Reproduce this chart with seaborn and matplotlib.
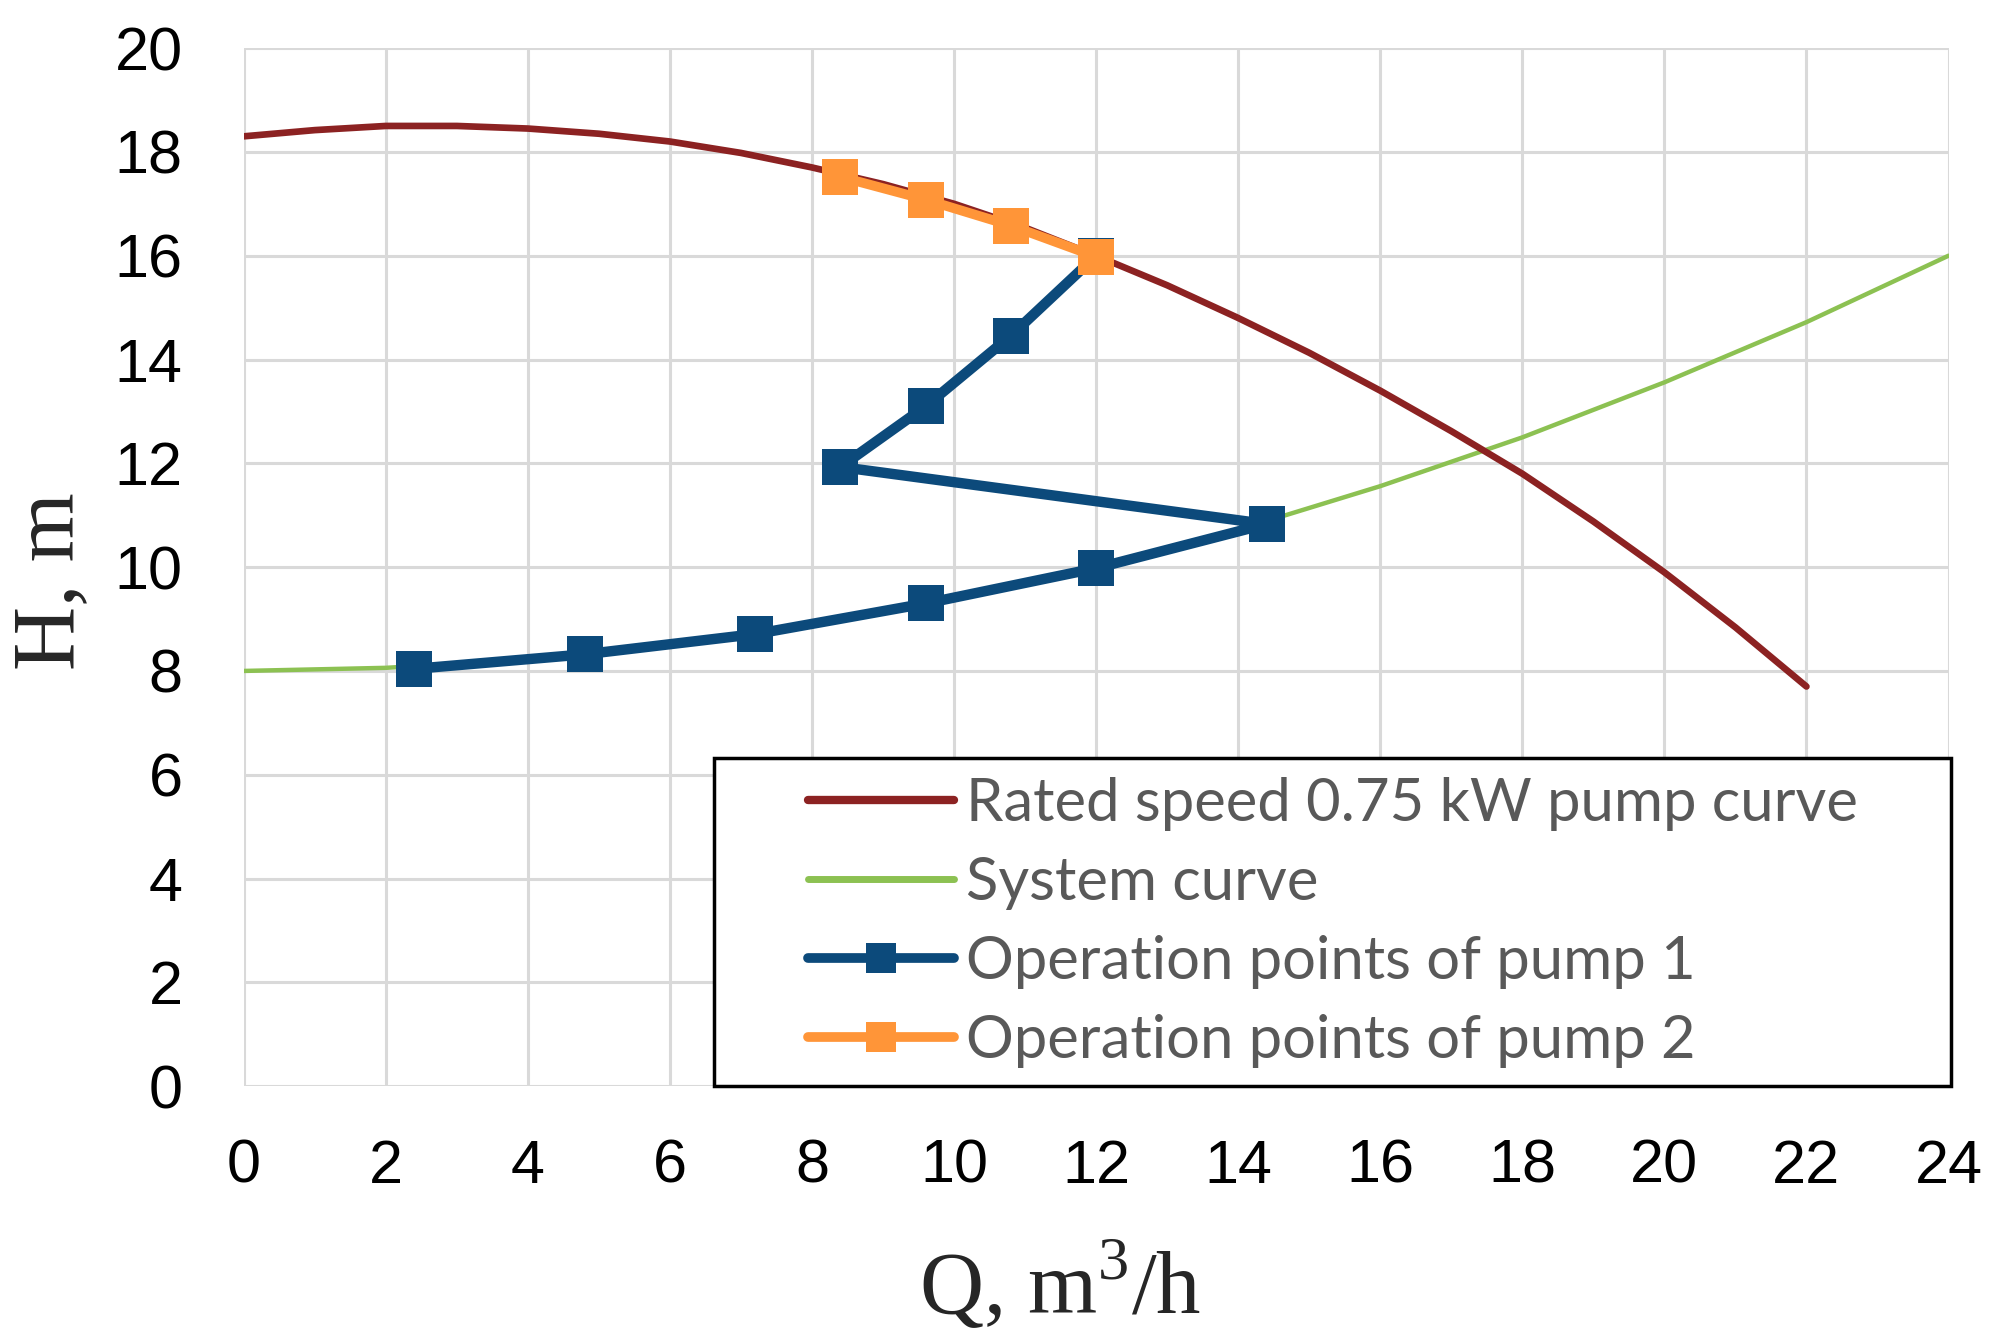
import numpy as np
import pandas as pd
import matplotlib
matplotlib.use("Agg")
import matplotlib.pyplot as plt
import seaborn as sns
from matplotlib.patches import Rectangle
from matplotlib.lines import Line2D

# Данные
pump_q = [0, 1, 2, 3, 4, 5, 6, 7, 8, 9, 10, 11, 12, 13, 14, 15, 16, 17, 18, 19, 20, 21, 22]
pump_h = [18.3, 18.42, 18.5, 18.5, 18.45, 18.35, 18.2, 17.98, 17.7, 17.38, 17.0, 16.54, 16.0,
          15.43, 14.8, 14.13, 13.4, 12.62, 11.8, 10.88, 9.9, 8.84, 7.7]

system_q = [0, 2, 4, 6, 8, 10, 12, 14, 16, 18, 20, 22, 24]
system_h = [8.0, 8.06, 8.22, 8.5, 8.89, 9.39, 10.0, 10.72, 11.56, 12.5, 13.56, 14.72, 16.0]

pump1_q = [2.4, 4.8, 7.2, 9.6, 12.0, 14.4, 8.4, 9.6, 10.8, 12.0]
pump1_h = [8.04, 8.32, 8.71, 9.3, 9.98, 10.83, 11.93, 13.1, 14.46, 16.0]

pump2_q = [8.4, 9.6, 10.8, 12.0]
pump2_h = [17.52, 17.08, 16.58, 15.98]

labels = ['Rated speed 0.75 kW pump curve', 'System curve',
          'Operation points of pump 1', 'Operation points of pump 2']
colors = ['#8C2222', '#8CC152', '#0C4A7B', '#FF9538']

sns.set_style('white')
plt.rcParams['font.family'] = ['Liberation Sans', 'DejaVu Sans']
plt.rcParams['mathtext.fontset'] = 'custom'
plt.rcParams['mathtext.rm'] = 'Liberation Serif'

fig = plt.figure(figsize=(20.15, 13.36), dpi=100)
ax = fig.add_axes([0.121, 0.187, 0.846, 0.777])

sns.lineplot(x=pump_q, y=pump_h, ax=ax, color=colors[0], lw=4.8, zorder=3)
sns.lineplot(x=system_q, y=system_h, ax=ax, color=colors[1], lw=3.2, zorder=2)
sns.lineplot(x=pump1_q, y=pump1_h, ax=ax, sort=False, estimator=None, color=colors[2], lw=7.5,
             marker='s', markersize=26, markeredgewidth=0, zorder=4)
sns.lineplot(x=pump2_q, y=pump2_h, ax=ax, sort=False, estimator=None, color=colors[3], lw=7,
             marker='s', markersize=26, markeredgewidth=0, zorder=5)

ax.set_xlim(0, 24)
ax.set_ylim(0, 20)
ax.set_xticks(np.arange(0, 25, 2))
ax.set_yticks(np.arange(0, 21, 2))
ax.grid(True, color='#D9D9D9', lw=2.2)
ax.set_axisbelow(True)
for s in ax.spines.values():
    s.set_visible(False)
ax.tick_params(axis='both', length=0, labelsize=44, colors='black')
ax.tick_params(axis='y', pad=44)
ax.tick_params(axis='x', pad=38)

ax.set_xlabel('Q, m$^{\\mathrm{3}}$/h', family='Liberation Serif', fontsize=64)
ax.set_ylabel('H, m', family='Liberation Serif', fontsize=64)
ax.xaxis.set_label_coords(0.479, -0.192)
ax.xaxis.label.set_va('center')
ax.yaxis.set_label_coords(-0.113, 0.487)
ax.yaxis.label.set_va('center')

# Легенда в рамке
handles = [Line2D([], [], color=colors[0], lw=6),
           Line2D([], [], color=colors[1], lw=5),
           Line2D([], [], color=colors[2], lw=7, marker='s', markersize=22, markeredgewidth=0),
           Line2D([], [], color=colors[3], lw=7, marker='s', markersize=22, markeredgewidth=0)]
box = Rectangle((0.2757, 0), 0.726, 0.316, transform=ax.transAxes, facecolor='white',
                edgecolor='black', lw=2.5, clip_on=False, zorder=9)
ax.add_patch(box)
leg = ax.legend(handles, labels, loc='center', bbox_to_anchor=(0.2757, 0, 0.726, 0.316),
                frameon=False, prop={'family': 'Lato', 'size': 43},
                handlelength=2.45, labelspacing=0.42, handletextpad=0.2, borderaxespad=0)
for t in leg.get_texts():
    t.set_color('#595959')
leg.set_zorder(10)

fig.savefig('out.png', dpi=100)
